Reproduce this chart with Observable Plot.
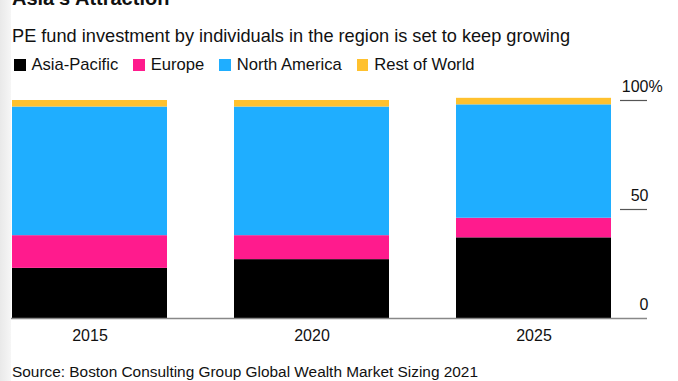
<!DOCTYPE html>
<html>
<head>
<meta charset="utf-8">
<script src="https://cdn.jsdelivr.net/npm/d3@7"></script>
<script src="https://cdn.jsdelivr.net/npm/@observablehq/plot@0.6"></script>
<style>
  html, body { margin: 0; padding: 0; background: #fff; }
  body { width: 678px; height: 381px; position: relative; overflow: hidden;
         font-family: "Liberation Sans", Arial, Helvetica, sans-serif; color: #111; }
  .shade { position: absolute; left: 0; top: 0; width: 11px; height: 381px;
           background: linear-gradient(to right, #e9e9e9, #f6f6f6); }
  .t { position: absolute; white-space: nowrap; }
  #title { left: 12px; top: -12px; font-size: 20px; line-height: 20px; font-weight: bold; }
  #subtitle { left: 12px; top: 27px; font-size: 18.2px; line-height: 18.2px; }
  #legend { left: 14px; top: 56.5px; font-size: 16.6px; line-height: 16.6px; display: flex; }
  .item { display: flex; align-items: center; margin-right: 15px; }
  .sw { width: 11.5px; height: 11.5px; margin-right: 6px; }
  #source { left: 12px; top: 364px; font-size: 15.4px; line-height: 15.4px; }
  #chart { position: absolute; left: 0; top: 60px; }
</style>
</head>
<body>
<div class="shade"></div>
<div class="t" id="title">Asia's Attraction</div>
<div class="t" id="subtitle">PE fund investment by individuals in the region is set to keep growing</div>
<div class="t" id="legend"></div>
<div id="chart"></div>
<div class="t" id="source">Source: Boston Consulting Group Global Wealth Market Sizing 2021</div>
<script>
const years = ["2015", "2020", "2025"];
const regions = ["Asia-Pacific", "Europe", "North America", "Rest of World"];
const asiaPacific = [23, 27, 37];
const europe = [15, 11, 9];
const northAmerica = [59, 59, 52];
const restOfWorld = [3, 3, 3];
const colors = ["#000000", "#ff1b8d", "#1faeff", "#ffc12e"];
const yTicks = [0, 50, 100];
const yTickLabels = ["0", "50", "100"];

const series = [asiaPacific, europe, northAmerica, restOfWorld];
const rows = [];
years.forEach((year, i) => {
  regions.forEach((region, j) => {
    rows.push({year, region, value: series[j][i]});
  });
});

const legend = document.getElementById("legend");
regions.forEach((r, i) => {
  const it = document.createElement("div");
  it.className = "item";
  const sw = document.createElement("div");
  sw.className = "sw";
  sw.style.background = colors[i];
  const lb = document.createElement("span");
  lb.textContent = r;
  it.appendChild(sw);
  it.appendChild(lb);
  legend.appendChild(it);
});

const chart = Plot.plot({
  width: 678,
  height: 290,
  marginLeft: 11,
  marginRight: 66,
  marginTop: 40,
  marginBottom: 32,
  style: {fontFamily: "'Liberation Sans', Arial, Helvetica, sans-serif", fontSize: "16px", color: "#111", background: "transparent"},
  x: {domain: years, paddingInner: 0.3, paddingOuter: 0, label: null, axis: null},
  y: {domain: [0, 100], axis: null},
  color: {domain: regions, range: colors},
  marks: [
    Plot.barY(rows, {x: "year", y: "value", fill: "region"}),
    Plot.ruleY([0], {stroke: "#888", strokeWidth: 1.5, insetRight: -35}),
    Plot.ruleY([50, 100], {stroke: "#555", strokeWidth: 1.2, insetLeft: 574, dx: 35}),
    Plot.text(yTicks, {y: d => d, text: (d, i) => yTickLabels[i], frameAnchor: "right", textAnchor: "end", lineAnchor: "bottom", dx: 36, dy: -9, fontSize: 16, fill: "#111"}),
    Plot.text([100], {y: d => d, text: () => "%", frameAnchor: "right", textAnchor: "start", lineAnchor: "bottom", dx: 36, dy: -9, fontSize: 16, fill: "#111"}),
    Plot.axisX({tickSize: 0, tickPadding: 11, fontSize: 16, label: null, fill: "#111"})
  ]
});
document.getElementById("chart").appendChild(chart);
</script>
</body>
</html>
